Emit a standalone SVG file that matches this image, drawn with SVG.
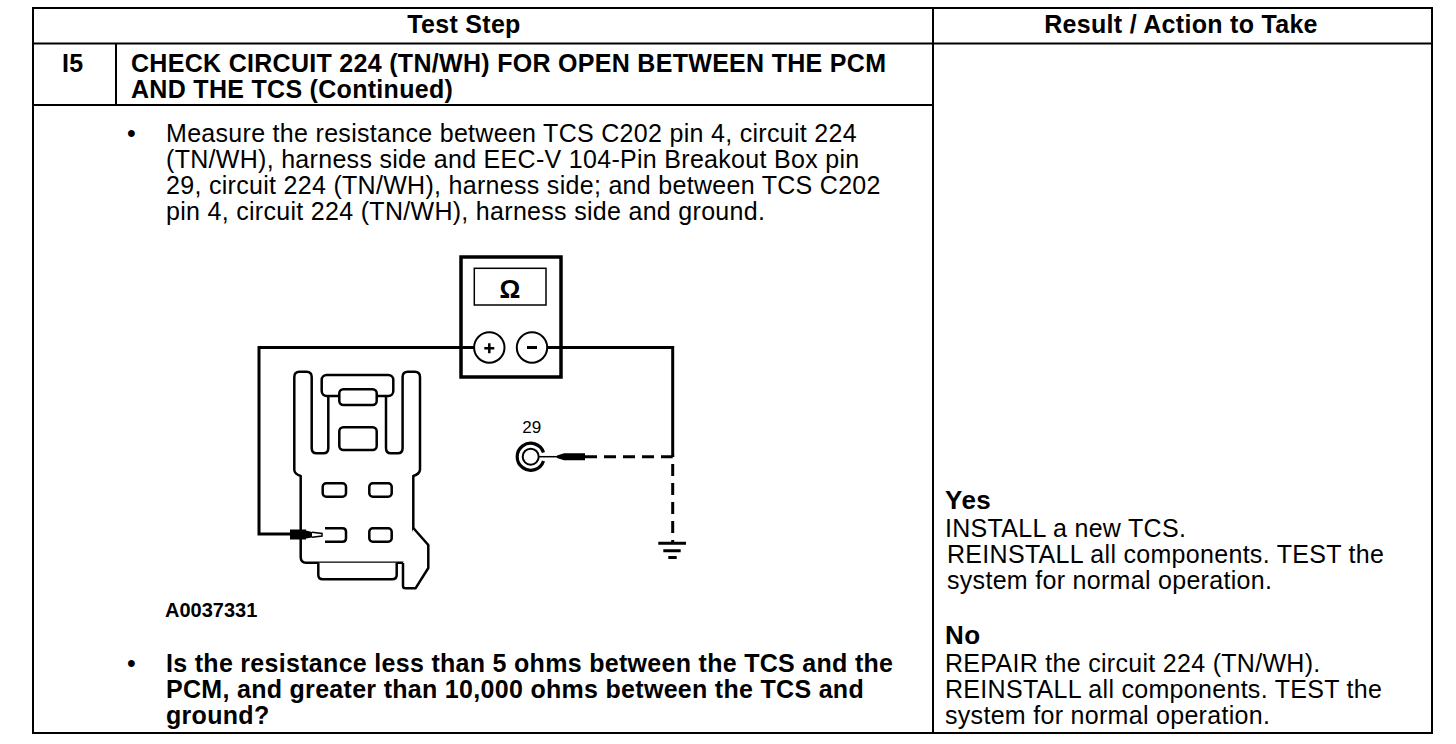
<svg xmlns="http://www.w3.org/2000/svg" width="1456" height="744" viewBox="0 0 1456 744">
<style>
text{font-family:"Liberation Sans",Arial,Helvetica,sans-serif;fill:#000}
.h{font-size:25px;font-weight:bold;letter-spacing:0.3px}
.b{font-size:25px;font-weight:bold;letter-spacing:0.3px}
.r{font-size:25px;letter-spacing:0.3px}
.yn{font-size:26px;font-weight:bold;letter-spacing:0.5px}
.tl{stroke:#000;stroke-width:2;fill:none}
.ol{stroke:#000;stroke-width:2.5;fill:#fff;stroke-linejoin:round}
.on{stroke:#000;stroke-width:2.5;fill:none;stroke-linejoin:round}
.w{stroke:#000;stroke-width:3;fill:none}
.d{stroke:#000;stroke-width:3;fill:none;stroke-dasharray:12 7}
</style>
<rect width="1456" height="744" fill="#fff"/>
<g id="table">
<rect class="tl" x="33" y="8" width="1399" height="725"/>
<line class="tl" x1="33" y1="43.5" x2="1432" y2="43.5"/>
<line class="tl" x1="933" y1="8" x2="933" y2="733"/>
<line class="tl" x1="116" y1="43.5" x2="116" y2="105"/>
<line class="tl" x1="33" y1="105" x2="933" y2="105" stroke-width="2.5"/>
</g>
<g id="header">
<text class="h" x="464" y="33" text-anchor="middle">Test Step</text>
<text class="h" x="1181" y="33" text-anchor="middle">Result / Action to Take</text>
</g>
<g id="step-title">
<text class="b" x="62" y="72">I5</text>
<text class="b" x="131" y="72">CHECK CIRCUIT 224 (TN/WH) FOR OPEN BETWEEN THE PCM</text>
<text class="b" x="131" y="98">AND THE TCS (Continued)</text>
</g>
<g id="instruction">
<text class="r" x="127" y="142">•</text>
<text class="r" x="166" y="142">Measure the resistance between TCS C202 pin 4, circuit 224</text>
<text class="r" x="166" y="168">(TN/WH), harness side and EEC-V 104-Pin Breakout Box pin</text>
<text class="r" x="166" y="194">29, circuit 224 (TN/WH), harness side; and between TCS C202</text>
<text class="r" x="166" y="220">pin 4, circuit 224 (TN/WH), harness side and ground.</text>
</g>
<g id="meter">
<rect x="461" y="257" width="100" height="120" fill="#fff" stroke="#000" stroke-width="3.5"/>
<rect x="474.3" y="268.3" width="71.7" height="36.7" fill="none" stroke="#000" stroke-width="1.5"/>
<text x="510" y="298" text-anchor="middle" style="font-size:26px;font-weight:bold">Ω</text>
<circle cx="489.3" cy="347.5" r="15.2" fill="#fff" stroke="#000" stroke-width="2"/>
<path d="M484.3 348.2H494.3M489.3 343.2V353.2" stroke="#000" stroke-width="2.5"/>
<circle cx="532" cy="347.5" r="15.2" fill="#fff" stroke="#000" stroke-width="2"/>
<path d="M527 347.5H537" stroke="#000" stroke-width="3"/>
</g>
<g id="tcs-connector">
<path class="ol" d="M294.3 470Q294.5 474 300.7 476V557Q300.7 562.7 306 562.7H408Q413.3 562.7 413.3 557V476Q419.5 474 420 470"/>
<path class="ol" d="M318.3 562.7V575Q318.3 579.3 323 579.3H392Q396.7 579.3 396.7 575V562.7"/>
<path class="ol" d="M413.3 528L428.3 545V568L415.5 588.3H405.5Q403 588.3 403 586V563"/>
<path class="on" d="M294.3 470V377Q294.3 371.7 299.5 371.7H306.5Q311.7 371.7 311.7 377V448Q311.7 453.3 316.5 453.3H323.5Q328.3 453.3 328.3 448V396"/>
<path class="on" d="M420 470V377Q420 371.7 414.8 371.7H407.8Q402.6 371.7 402.6 377V448Q402.6 453.3 397.8 453.3H390.8Q386 453.3 386 448V396"/>
<rect class="ol" x="321.7" y="375" width="71.6" height="21" rx="5"/>
<rect class="ol" x="339.3" y="389.3" width="37.4" height="15.7" rx="4"/>
<rect class="ol" x="339.3" y="427.3" width="37.4" height="22.7" rx="4"/>
<rect class="ol" x="322.7" y="483.3" width="23.3" height="13.4" rx="3.5"/>
<rect class="ol" x="369.3" y="483.3" width="22.4" height="13.4" rx="3.5"/>
<rect class="ol" x="369.3" y="528.3" width="22.4" height="13.4" rx="3.5"/>
<path class="on" d="M325 528.3H342.5Q346 528.3 346 531.8V538.2Q346 541.7 342.5 541.7H325"/>
<rect x="290" y="529.5" width="16" height="10" fill="#000"/>
<path d="M306 530.5L312 532V537.5L306 538.5Z" fill="#000"/>
<path d="M312 532.3L322 533.5V536L312 537.2" fill="#fff" stroke="#000" stroke-width="1.5"/>
</g>
<g id="pin-29">
<text x="531.7" y="432.7" text-anchor="middle" style="font-size:17px">29</text>
<path d="M543.5 452.5A13.5 13.5 0 1 0 543.5 461" fill="none" stroke="#000" stroke-width="3.2"/>
<circle cx="530.7" cy="456.7" r="8" fill="none" stroke="#000" stroke-width="2"/>
<path d="M538.7 456.7H559" stroke="#000" stroke-width="1.5"/>
<path d="M557 455.5L564 453.2H585V460.2H564L557 458Z" fill="#000"/>
</g>
<g id="ground">
<path d="M658.3 543.3H686M663.3 550.7H680.7M668.3 557.5H676.7" stroke="#000" stroke-width="3"/>
</g>
<g id="connectors">
<path class="w" d="M474.1 347.5H259V534H290"/>
<path class="w" d="M547.2 347.5H672.7V457"/>
<path class="d" d="M585 456.7H672.7V543"/>
</g>
<g id="figure-label">
<text x="165" y="617" style="font-size:20px;font-weight:bold">A0037331</text>
</g>
<g id="question">
<text class="r" x="127" y="672">•</text>
<text class="b" x="166" y="672">Is the resistance less than 5 ohms between the TCS and the</text>
<text class="b" x="166" y="698">PCM, and greater than 10,000 ohms between the TCS and</text>
<text class="b" x="166" y="724">ground?</text>
</g>
<g id="result-yes">
<text class="yn" x="945" y="509">Yes</text>
<text class="r" x="945" y="537">INSTALL a new TCS.</text>
<text class="r" x="947" y="563">REINSTALL all components. TEST the</text>
<text class="r" x="947" y="589">system for normal operation.</text>
</g>
<g id="result-no">
<text class="yn" x="945" y="644">No</text>
<text class="r" x="945" y="672">REPAIR the circuit 224 (TN/WH).</text>
<text class="r" x="945" y="698">REINSTALL all components. TEST the</text>
<text class="r" x="945" y="724">system for normal operation.</text>
</g>
</svg>
